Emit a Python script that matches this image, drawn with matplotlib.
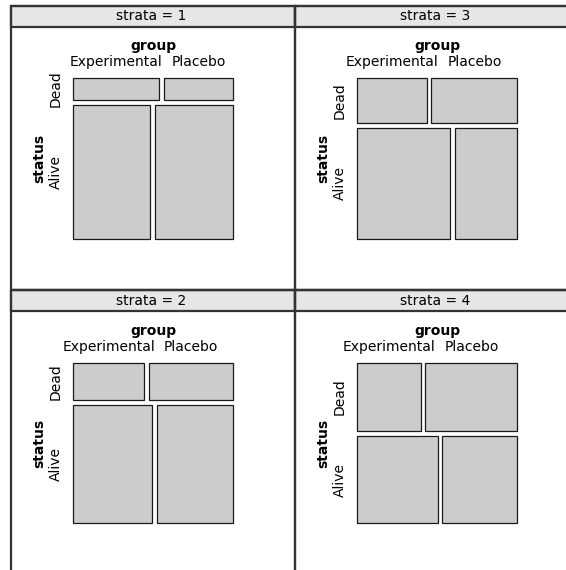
import matplotlib
matplotlib.use("Agg")
import matplotlib.pyplot as plt
from matplotlib.patches import Rectangle

# ---- data (estimated counts) ----
strata = ["1", "3", "2", "4"]          # panel order: top-left, top-right, bottom-left, bottom-right
status_levels = ["Dead", "Alive"]
group_levels = ["Experimental", "Placebo"]
dead_exp = [15, 26, 22, 36]
dead_pla = [12, 32, 26, 52]
alive_exp = [83, 85, 77, 58]
alive_pla = [85, 57, 75, 54]

W, H = 566, 570
fig = plt.figure(figsize=(W / 100, H / 100), dpi=100)
fig.patch.set_facecolor("white")

# background axes in pixel coordinates for frames/strips
bg = fig.add_axes([0, 0, 1, 1])
bg.set_xlim(0, W)
bg.set_ylim(H, 0)
bg.axis("off")

col_x = [11, 295]
row_y = [5.5, 290]
pw, ph = 284, 284
strip_h = 21
tile_off_x, tile_off_y, tile_size = 62, 72.8, 160.3
gap = 4.7 / tile_size

positions = [(0, 0), (1, 0), (0, 1), (1, 1)]
for i, (c, r) in enumerate(positions):
    x0, y0 = col_x[c], row_y[r]
    # panel frame
    bg.add_patch(Rectangle((x0, y0), pw, ph, facecolor="none", edgecolor="#333333", lw=1.6, zorder=3))
    # strip
    bg.add_patch(Rectangle((x0, y0), pw, strip_h, facecolor="#e6e6e6", edgecolor="#333333", lw=1.6, zorder=2))
    bg.text(x0 + pw / 2 - 2, y0 + strip_h / 2 + 0.5, f"strata = {strata[i]}", ha="center", va="center",
            fontsize=10, family="DejaVu Sans")

    # tile axes
    tl, tt = x0 + tile_off_x, y0 + tile_off_y
    ax = fig.add_axes([tl / W, 1 - (tt + tile_size) / H, tile_size / W, tile_size / H])
    ax.set_xlim(0, 1)
    ax.set_ylim(1, 0)
    ax.axis("off")

    rows = [[dead_exp[i], dead_pla[i]], [alive_exp[i], alive_pla[i]]]
    total = sum(sum(rw) for rw in rows)
    avail_h = 1 - gap
    y = 0
    row_centers = []
    top_centers = []
    for ri, rw in enumerate(rows):
        h = avail_h * sum(rw) / total
        avail_w = 1 - gap
        x = 0
        for gi, v in enumerate(rw):
            w = avail_w * v / sum(rw)
            ax.add_patch(Rectangle((x, y), w, h, facecolor="#cccccc", edgecolor="#1a1a1a", lw=0.9,
                                   clip_on=False))
            if ri == 0:
                top_centers.append(x + w / 2)
            x += w + gap
        row_centers.append(y + h / 2)
        y += h + gap

    # group labels (top)
    for gi, g in enumerate(group_levels):
        ax.annotate(g, xy=(top_centers[gi], 0), xytext=(0, 16 * 0.72), textcoords="offset points",
                    ha="center", va="center", fontsize=10)
    ax.annotate("group", xy=(0.5, 0), xytext=(0, 32 * 0.72), textcoords="offset points",
                ha="center", va="center", fontsize=10, fontweight="bold")
    # status labels (left)
    for si, s in enumerate(status_levels):
        ax.annotate(s, xy=(0, row_centers[si]), xytext=(-17 * 0.72, 0), textcoords="offset points",
                    ha="center", va="center", fontsize=10, rotation=90)
    ax.annotate("status", xy=(0, 0.5), xytext=(-33.5 * 0.72, 0), textcoords="offset points",
                ha="center", va="center", fontsize=10, fontweight="bold", rotation=90)

fig.savefig("out.png", dpi=100)
